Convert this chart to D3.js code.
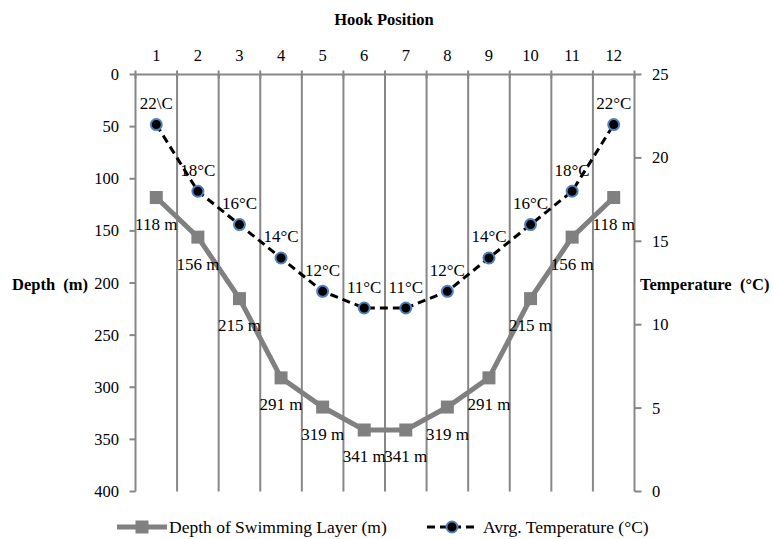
<!DOCTYPE html>
<html>
<head>
<meta charset="utf-8">
<script src="https://cdn.jsdelivr.net/npm/d3@7"></script>
<style>
body{margin:0;background:#fff;}
text{font-family:"Liberation Serif","Times New Roman",serif;fill:#000;}
</style>
</head>
<body>
<svg id="chart" width="773" height="539"></svg>
<script>
const hookPositions = [1,2,3,4,5,6,7,8,9,10,11,12];
const depthValues = [118,156,215,291,319,341,341,319,291,215,156,118];
const tempValues = [22,18,16,14,12,11,11,12,14,16,18,22];
const tempLabels = ["22\\C","18°C","16°C","14°C","12°C","11°C","11°C","12°C","14°C","16°C","18°C","22°C"];
const depthTicks = [0,50,100,150,200,250,300,350,400];
const tempTicks = [0,5,10,15,20,25];
const depthSeriesName = "Depth of Swimming Layer (m)";
const tempSeriesName = "Avrg. Temperature (°C)";

(function(){
const svg = d3.select("#chart");
const L = 135.5, R = 634.5, T = 74.5, B = 491.5;
const gridColor = "#878787";
const FS = 16.5, LFS = 17, TFS = 16.5;

const x = d3.scaleBand().domain(hookPositions).range([L, R]);
const yD = d3.scaleLinear().domain([0, 400]).range([T, B]);
const yT = d3.scaleLinear().domain([0, 25]).range([B, T]);

// vertical gridlines at band boundaries
const bounds = hookPositions.slice(1).map(d => x(d));
svg.append("g").selectAll("line").data(bounds).join("line")
  .attr("x1", d => d).attr("x2", d => d).attr("y1", T).attr("y2", B)
  .attr("stroke", gridColor).attr("stroke-width", 2);

// top axis
const topAx = svg.append("g");
topAx.append("line").attr("x1", L).attr("x2", R).attr("y1", T).attr("y2", T)
  .attr("stroke", gridColor).attr("stroke-width", 2);
topAx.selectAll("line.tk").data([L, ...bounds, R]).join("line").attr("class","tk")
  .attr("x1", d => d).attr("x2", d => d).attr("y1", T - 4).attr("y2", T + 4)
  .attr("stroke", gridColor).attr("stroke-width", 2);
topAx.selectAll("text").data(hookPositions).join("text")
  .attr("x", d => x(d) + x.bandwidth()/2).attr("y", 55)
  .attr("text-anchor", "middle").attr("dominant-baseline", "central")
  .attr("font-size", FS).text(d => d);

// left axis
const leftAx = svg.append("g");
leftAx.append("line").attr("x1", L).attr("x2", L).attr("y1", T).attr("y2", B)
  .attr("stroke", gridColor).attr("stroke-width", 2);
leftAx.selectAll("line.tk").data(depthTicks).join("line").attr("class","tk")
  .attr("x1", L - 6).attr("x2", L).attr("y1", d => yD(d)).attr("y2", d => yD(d))
  .attr("stroke", gridColor).attr("stroke-width", 2);
leftAx.selectAll("text").data(depthTicks).join("text")
  .attr("x", 119).attr("y", d => yD(d))
  .attr("text-anchor", "end").attr("dominant-baseline", "central")
  .attr("font-size", FS).text(d => d);

// right axis
const rightAx = svg.append("g");
rightAx.append("line").attr("x1", R).attr("x2", R).attr("y1", T).attr("y2", B)
  .attr("stroke", gridColor).attr("stroke-width", 2);
rightAx.selectAll("line.tk").data(tempTicks).join("line").attr("class","tk")
  .attr("x1", R).attr("x2", R + 7).attr("y1", d => yT(d)).attr("y2", d => yT(d))
  .attr("stroke", gridColor).attr("stroke-width", 2);
rightAx.selectAll("text").data(tempTicks).join("text")
  .attr("x", 652).attr("y", d => yT(d))
  .attr("text-anchor", "start").attr("dominant-baseline", "central")
  .attr("font-size", FS).text(d => d);

// titles
svg.append("text").attr("x", 384).attr("y", 19).attr("text-anchor","middle")
  .attr("dominant-baseline","central").attr("font-size",TFS).attr("font-weight","bold")
  .text("Hook Position");
svg.append("text").attr("x", 12).attr("y", 284).attr("text-anchor","start")
  .attr("dominant-baseline","central").attr("font-size",TFS).attr("font-weight","bold")
  .style("white-space","pre").text("Depth  (m)");
svg.append("text").attr("x", 640).attr("y", 284).attr("text-anchor","start")
  .attr("dominant-baseline","central").attr("font-size",TFS).attr("font-weight","bold")
  .style("white-space","pre").text("Temperature  (°C)");

const cx = d => x(d) + x.bandwidth()/2;

// depth series
const depthData = hookPositions.map((h, i) => ({h, v: depthValues[i]}));
svg.append("path").datum(depthData)
  .attr("d", d3.line().x(d => cx(d.h)).y(d => yD(d.v)))
  .attr("fill","none").attr("stroke","#808080").attr("stroke-width",5);
svg.append("g").selectAll("rect").data(depthData).join("rect")
  .attr("x", d => cx(d.h) - 6.5).attr("y", d => yD(d.v) - 6.5)
  .attr("width", 13).attr("height", 13).attr("fill","#808080");
svg.append("g").selectAll("text").data(depthData).join("text")
  .attr("x", d => cx(d.h)).attr("y", d => yD(d.v) + 27)
  .attr("text-anchor","middle").attr("dominant-baseline","central")
  .attr("font-size",LFS).text(d => d.v + " m");

// temperature series
const tempData = hookPositions.map((h, i) => ({h, v: tempValues[i], l: tempLabels[i]}));
svg.append("path").datum(tempData)
  .attr("d", d3.line().x(d => cx(d.h)).y(d => yT(d.v)))
  .attr("fill","none").attr("stroke","#000").attr("stroke-width",3)
  .attr("stroke-dasharray","8,5");
svg.append("g").selectAll("circle").data(tempData).join("circle")
  .attr("cx", d => cx(d.h)).attr("cy", d => yT(d.v)).attr("r", 5.5)
  .attr("fill","#000").attr("stroke","#4f81bd").attr("stroke-width",2);
svg.append("g").selectAll("text").data(tempData).join("text")
  .attr("x", d => cx(d.h)).attr("y", d => yT(d.v) - 21)
  .attr("text-anchor","middle").attr("dominant-baseline","central")
  .attr("font-size",LFS).text(d => d.l);

// legend
const lg = svg.append("g");
const ly = 527;
lg.append("line").attr("x1",117).attr("x2",167).attr("y1",ly).attr("y2",ly)
  .attr("stroke","#808080").attr("stroke-width",5);
lg.append("rect").attr("x",135.5).attr("y",ly-6.5).attr("width",13).attr("height",13).attr("fill","#808080");
lg.append("text").attr("x",169).attr("y",ly).attr("dominant-baseline","central")
  .attr("font-size",17.5).text(depthSeriesName);
lg.append("line").attr("x1",427).attr("x2",478).attr("y1",ly).attr("y2",ly)
  .attr("stroke","#000").attr("stroke-width",3).attr("stroke-dasharray","8,5");
lg.append("circle").attr("cx",452).attr("cy",ly).attr("r",5.5)
  .attr("fill","#000").attr("stroke","#4f81bd").attr("stroke-width",2);
lg.append("text").attr("x",483).attr("y",ly).attr("dominant-baseline","central")
  .attr("font-size",17.5).text(tempSeriesName);
})();
</script>
</body>
</html>
